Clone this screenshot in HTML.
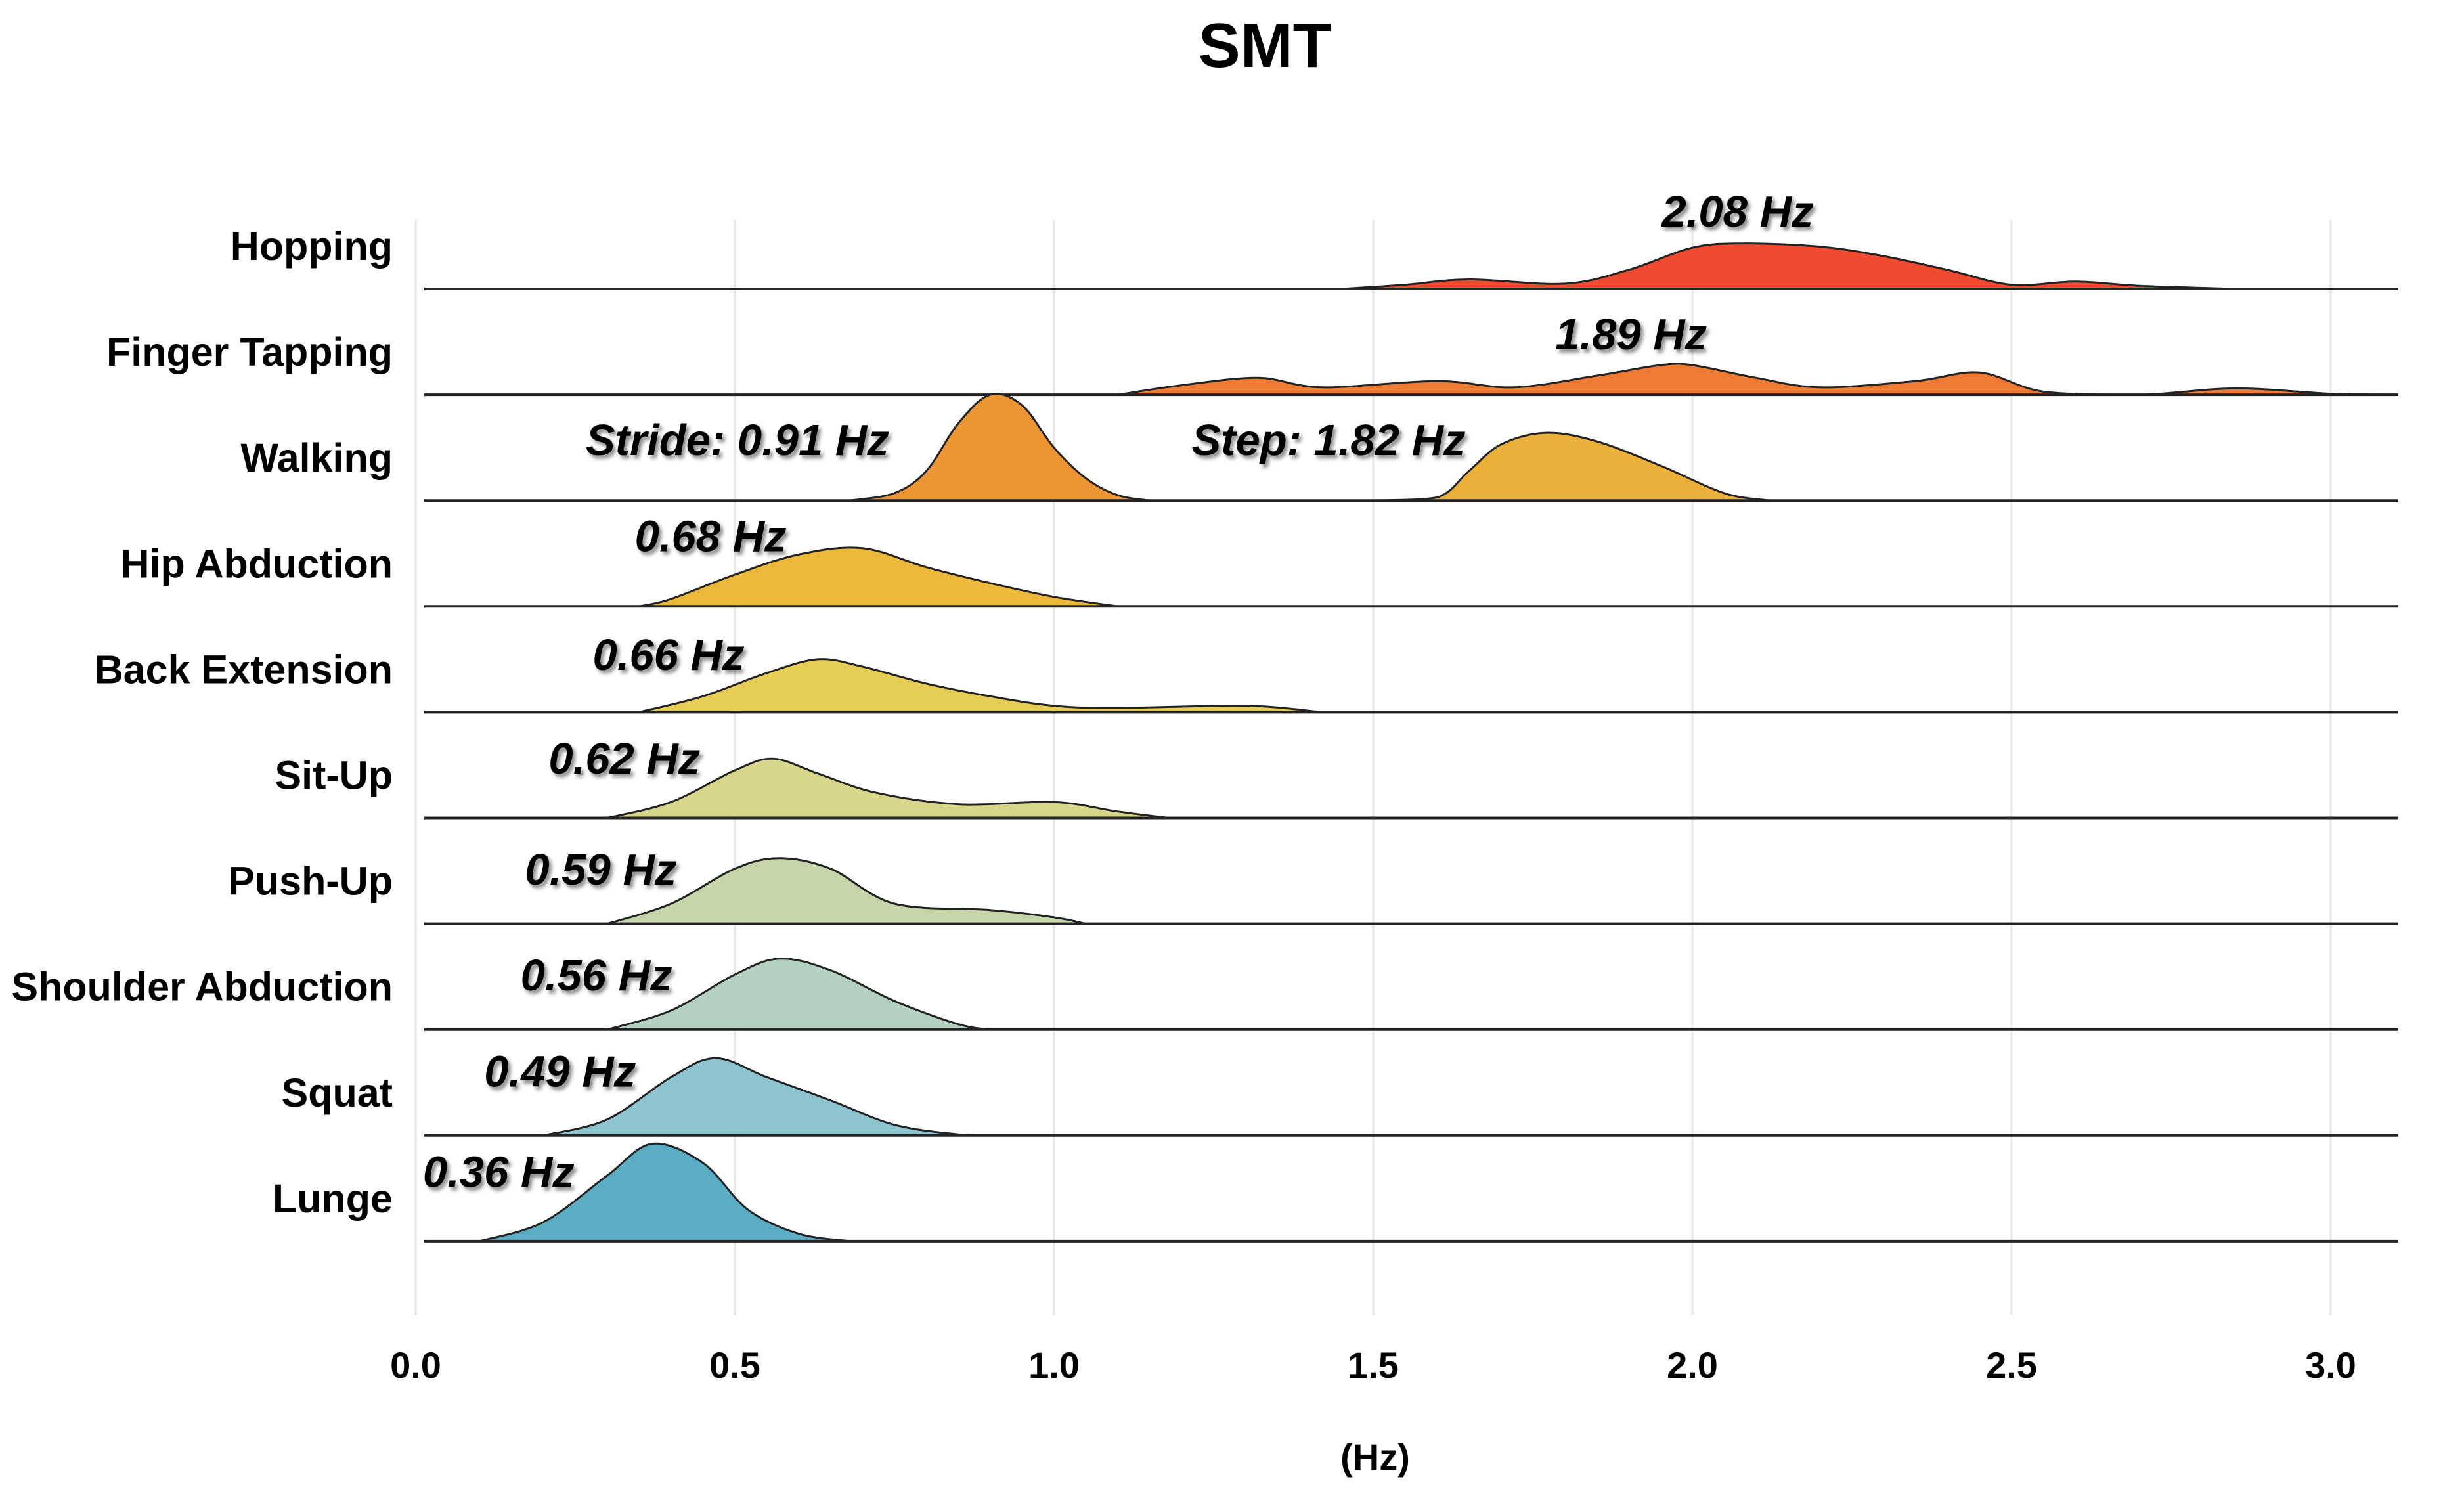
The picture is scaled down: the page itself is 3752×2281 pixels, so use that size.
<!DOCTYPE html>
<html><head><meta charset="utf-8"><style>
html,body{margin:0;padding:0;background:#fff;}
svg{display:block;}
text{font-family:"Liberation Sans",sans-serif;font-weight:bold;fill:#000;}
</style></head><body>
<svg id="chart" width="3752" height="2281" viewBox="0 0 3752 2281" xmlns="http://www.w3.org/2000/svg">
<defs><filter id="sh" x="-10%" y="-30%" width="130%" height="170%"><feDropShadow dx="4" dy="5" stdDeviation="3" flood-color="#000" flood-opacity="0.45"/></filter></defs>
<text x="1926" y="102" font-size="96" text-anchor="middle">SMT</text>
<g id="grid"></g><g id="ridges"></g><g id="labels"></g><g id="ticks"></g>
<text x="2094" y="2238" font-size="56" text-anchor="middle">(Hz)</text>
</svg>
<script>
const categories = ["Hopping","Finger Tapping","Walking","Hip Abduction","Back Extension","Sit-Up","Push-Up","Shoulder Abduction","Squat","Lunge"];
// density curves: [Hz, height in row-units]
const hoppingCurve = [[1.45,0],[1.55,0.04],[1.65,0.09],[1.8,0.05],[1.9,0.18],[2.0,0.39],[2.08,0.43],[2.2,0.40],[2.3,0.31],[2.4,0.18],[2.5,0.04],[2.6,0.07],[2.7,0.03],[2.85,0]];
const fingerCurve = [[1.1,0],[1.2,0.09],[1.32,0.16],[1.42,0.07],[1.6,0.13],[1.72,0.07],[1.85,0.18],[1.95,0.28],[2.0,0.28],[2.1,0.16],[2.2,0.07],[2.35,0.13],[2.45,0.21],[2.55,0.03],[2.7,0],[2.85,0.06],[3.0,0.01],[3.1,0]];
const strideCurve = [[0.68,0],[0.75,0.07],[0.8,0.28],[0.85,0.73],[0.9,1.0],[0.95,0.9],[1.0,0.5],[1.05,0.21],[1.1,0.05],[1.15,0]];
const stepCurve = [[1.5,0],[1.6,0.03],[1.65,0.28],[1.7,0.53],[1.77,0.64],[1.85,0.56],[1.95,0.33],[2.05,0.07],[2.12,0]];
const hipCurve = [[0.35,0],[0.4,0.07],[0.5,0.30],[0.6,0.49],[0.7,0.55],[0.8,0.37],[0.9,0.22],[1.0,0.09],[1.1,0]];
const backCurve = [[0.35,0],[0.45,0.15],[0.55,0.37],[0.63,0.50],[0.7,0.43],[0.8,0.27],[0.9,0.15],[1.0,0.06],[1.1,0.04],[1.3,0.06],[1.42,0]];
const situpCurve = [[0.3,0],[0.4,0.15],[0.5,0.45],[0.56,0.56],[0.63,0.42],[0.72,0.24],[0.85,0.13],[1.0,0.15],[1.1,0.06],[1.18,0]];
const pushupCurve = [[0.3,0],[0.4,0.19],[0.5,0.52],[0.57,0.62],[0.65,0.52],[0.75,0.19],[0.9,0.13],[1.0,0.06],[1.05,0]];
const shoulderCurve = [[0.3,0],[0.4,0.18],[0.5,0.52],[0.57,0.67],[0.65,0.56],[0.75,0.27],[0.85,0.05],[0.9,0]];
const squatCurve = [[0.2,0],[0.3,0.15],[0.4,0.55],[0.47,0.73],[0.55,0.55],[0.65,0.33],[0.75,0.1],[0.85,0.01],[0.9,0]];
const lungeCurve = [[0.1,0],[0.2,0.18],[0.3,0.62],[0.37,0.92],[0.45,0.74],[0.52,0.3],[0.6,0.07],[0.68,0]];
const curves = [[hoppingCurve],[fingerCurve],[strideCurve,stepCurve],[hipCurve],[backCurve],[situpCurve],[pushupCurve],[shoulderCurve],[squatCurve],[lungeCurve]];
const curveColors = [["#f04a30"],["#ef7a34"],["#ec9535","#eab03a"],["#ebb83a"],["#e6cd55"],["#d7d68a"],["#c5d4a9"],["#b3d0c3"],["#8ec3d0"],["#5badc3"]];
// [text, center Hz, row index, height above baseline in row-units]
const annotations = [["2.08 Hz",2.071,0,0.59],["1.89 Hz",1.904,1,0.43],["Stride: 0.91 Hz",0.504,2,0.43],["Step: 1.82 Hz",1.43,2,0.43],["0.68 Hz",0.462,3,0.52],["0.66 Hz",0.396,4,0.40],["0.62 Hz",0.327,5,0.42],["0.59 Hz",0.29,6,0.37],["0.56 Hz",0.283,7,0.37],["0.49 Hz",0.226,8,0.46],["0.36 Hz",0.13,9,0.51]];
const tickValues = [0,0.5,1,1.5,2,2.5,3];
const tickLabels = ["0.0","0.5","1.0","1.5","2.0","2.5","3.0"];

const NS="http://www.w3.org/2000/svg";
const x0=633, pxPerHz=972, row0=440, rowH=161.1, lineStart=646, lineEnd=3652;
const xs = v => x0 + v*pxPerHz;
const ys = i => row0 + i*rowH;
const hs = h => h*rowH;
function mk(t,parent){const e=document.createElementNS(NS,t);parent.appendChild(e);return e;}
const grid=document.getElementById('grid'), ridges=document.getElementById('ridges'), labels=document.getElementById('labels'), ticks=document.getElementById('ticks');

tickValues.forEach((v,i)=>{
  const l=mk('line',grid);
  
  
  l.setAttribute('x1',xs(v));l.setAttribute('x2',xs(v));l.setAttribute('y1',335);l.setAttribute('y2',2003);
  l.setAttribute('stroke','#e6e6e6');l.setAttribute('stroke-width',3);
  const t=mk('text',ticks);
  
  
  t.setAttribute('x',xs(v));t.setAttribute('y',2098);t.setAttribute('font-size',56);t.setAttribute('text-anchor','middle');
  t.textContent=tickLabels[i];
});

function smoothPath(pts){
  let d='';
  for(let i=0;i<pts.length-1;i++){
    const p0=pts[Math.max(0,i-1)],p1=pts[i],p2=pts[i+1],p3=pts[Math.min(pts.length-1,i+2)];
    let c1y=p1[1]+(p2[1]-p0[1])/6, c2y=p2[1]-(p3[1]-p1[1])/6;
    const base=pts[0][2];
    c1y=Math.min(c1y,base); c2y=Math.min(c2y,base);
    d+=' C'+(p1[0]+(p2[0]-p0[0])/6).toFixed(1)+','+c1y.toFixed(1)+' '+(p2[0]-(p3[0]-p1[0])/6).toFixed(1)+','+c2y.toFixed(1)+' '+p2[0].toFixed(1)+','+p2[1].toFixed(1);
  }
  return d;
}

categories.forEach((c,i)=>{
  const b=ys(i);
  const g=mk('g',ridges);
  
  
  curves[i].forEach((cv,k)=>{
    const pts=cv.map(p=>[xs(p[0]),b-hs(p[1]),b]);
    let d='M'+pts[0][0].toFixed(1)+','+pts[0][1].toFixed(1)+smoothPath(pts)+' Z';
    const p=mk('path',g);
    
    
    p.setAttribute('d',d);p.setAttribute('fill',curveColors[i][k]);p.setAttribute('stroke','#222');p.setAttribute('stroke-width',3);p.setAttribute('stroke-linejoin','round');
  });
  const l=mk('line',g);
  
  
  l.setAttribute('x1',lineStart);l.setAttribute('x2',lineEnd);l.setAttribute('y1',b);l.setAttribute('y2',b);
  l.setAttribute('stroke','#222');l.setAttribute('stroke-width',4);
  const t=mk('text',labels);
  
  
  t.setAttribute('x',598);t.setAttribute('y',b-44);t.setAttribute('font-size',61);t.setAttribute('text-anchor','end');
  t.textContent=c;
});

annotations.forEach(a=>{
  const t=mk('text',labels);
  
  
  t.setAttribute('x',xs(a[1]));t.setAttribute('y',ys(a[2])-hs(a[3]));
  t.setAttribute('font-size',67);t.setAttribute('font-style','italic');t.setAttribute('text-anchor','middle');
  t.setAttribute('filter','url(#sh)');
  t.textContent=a[0];
});
</script>
</body></html>
